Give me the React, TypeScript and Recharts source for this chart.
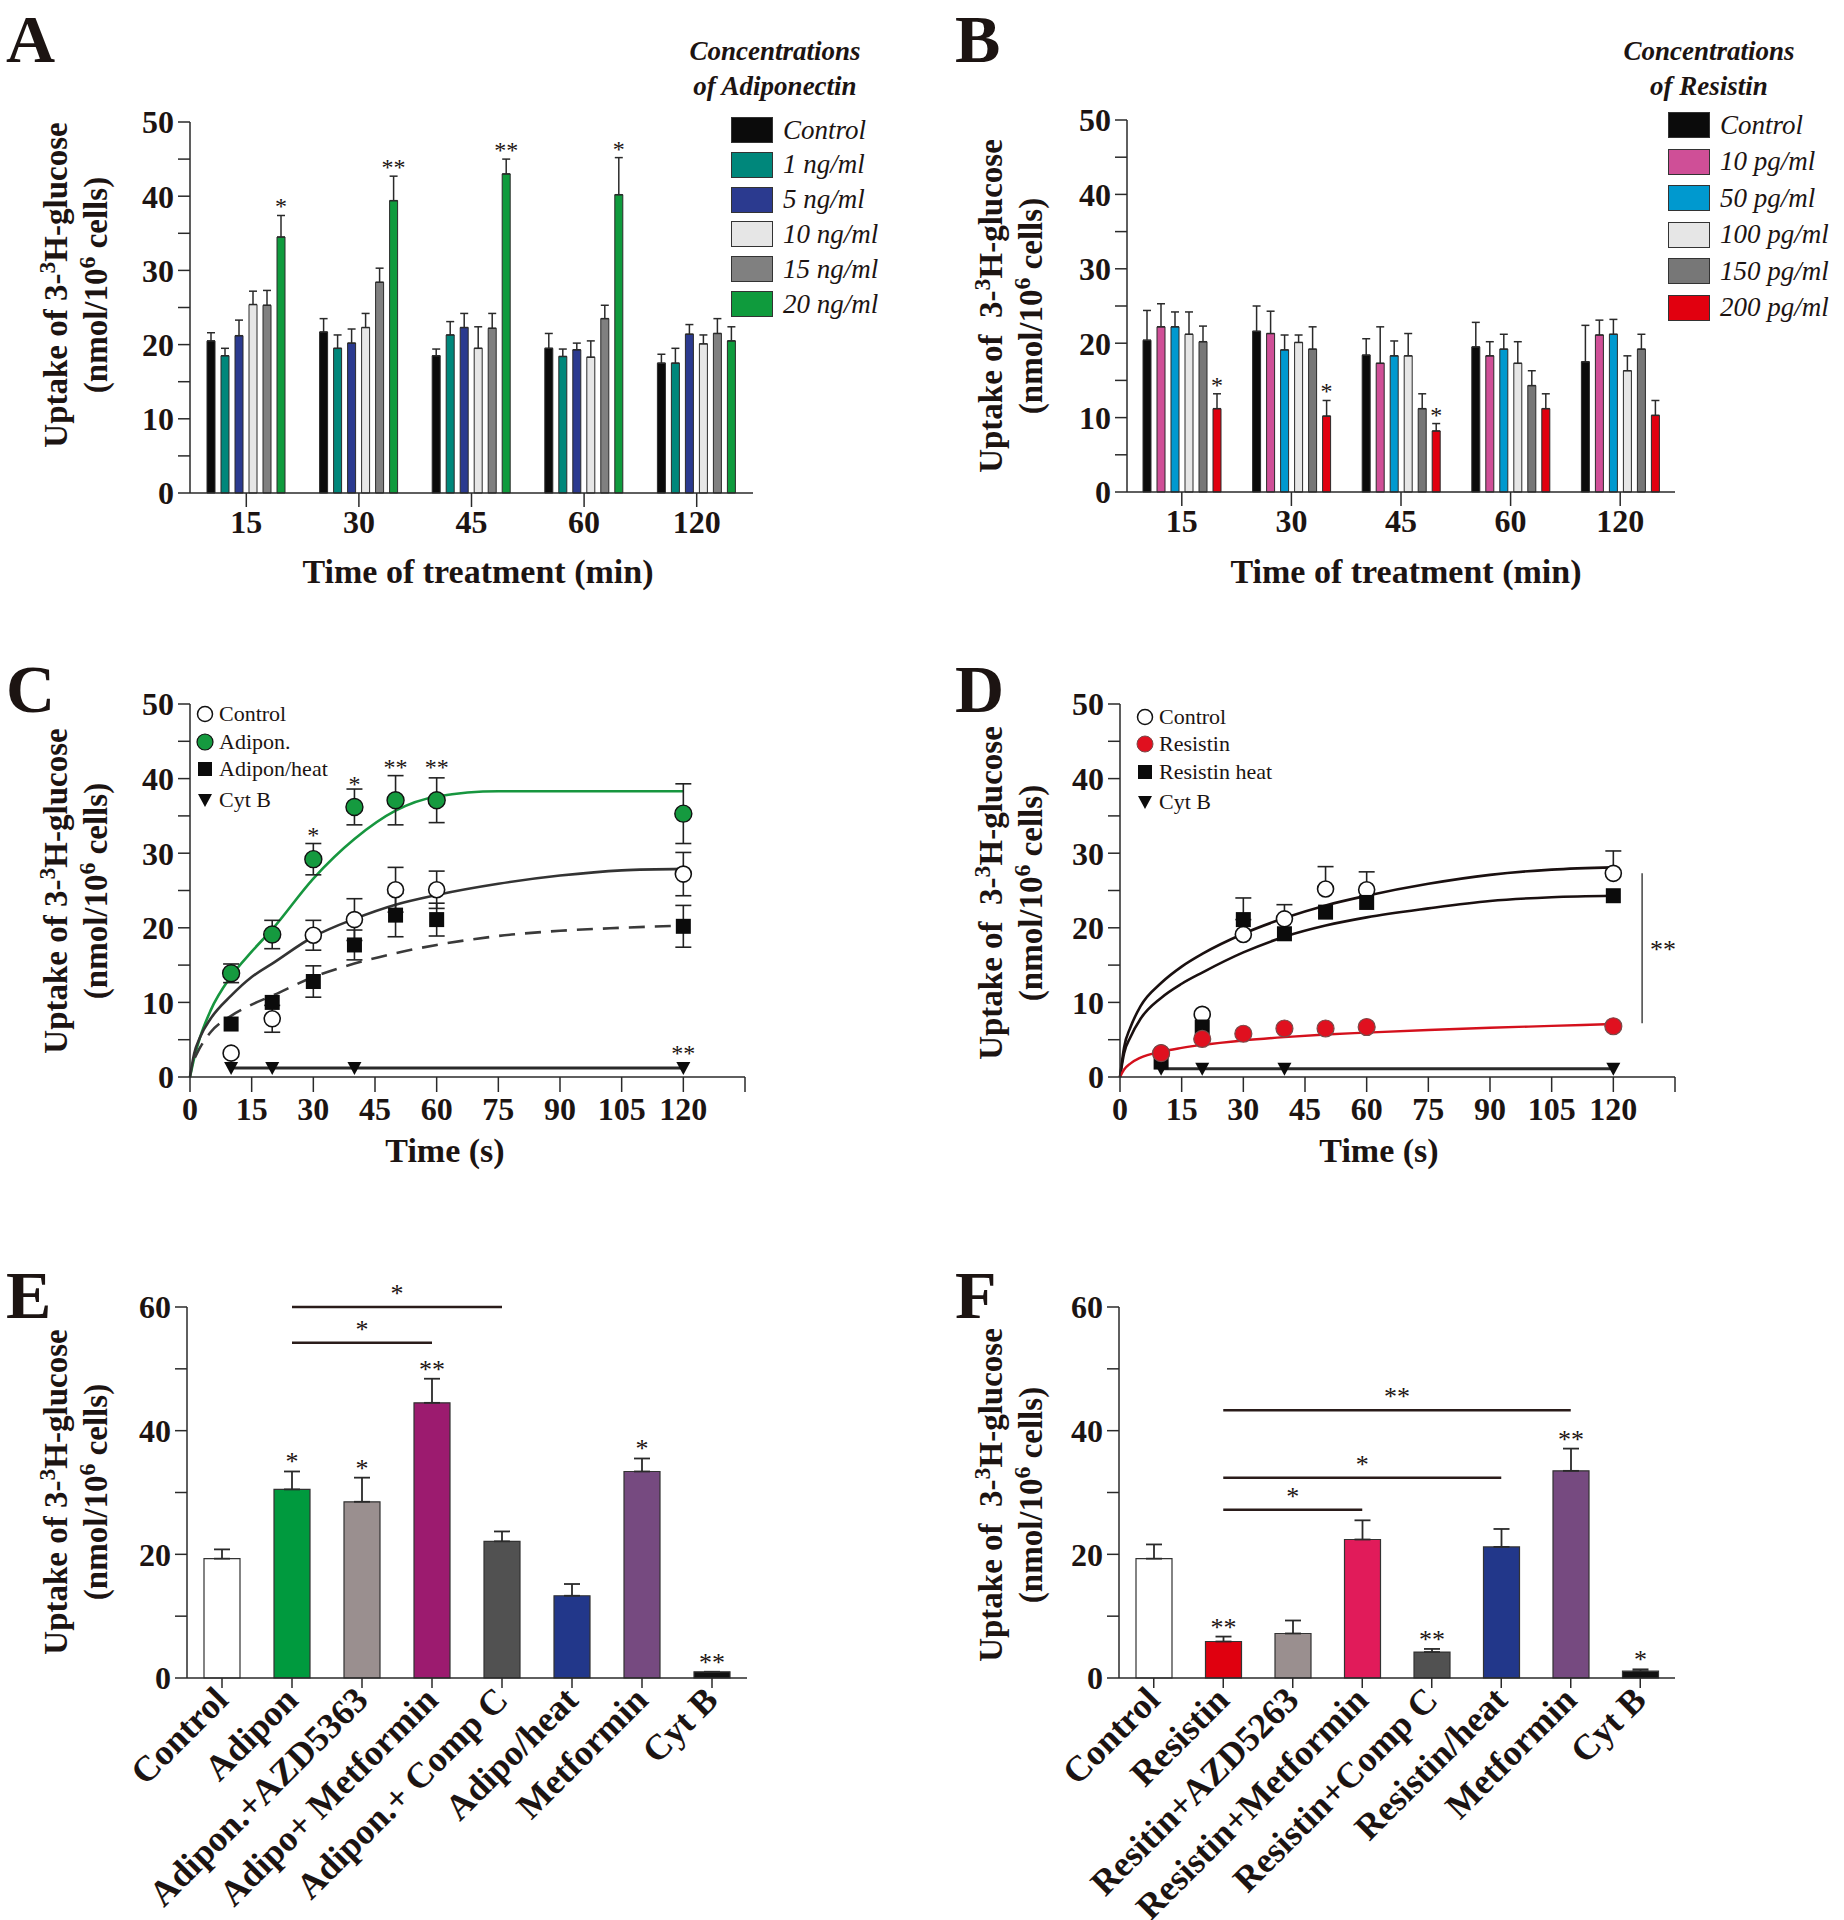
import React from 'react';
import {
  Bar,
  BarChart,
  Cell,
  ComposedChart,
  ErrorBar,
  LabelList,
  Line,
  ReferenceLine,
  Scatter,
  XAxis,
  YAxis,
} from 'recharts';

const FONT = '"Liberation Serif", "Times New Roman", serif';
const INK = '#1c1412';
const AX = '#2a2a2a';

// ---------- panel A / B : grouped bars over time ----------
const timesAB = ['15', '30', '45', '60', '120'];

const adipoNames = ['Control', '1 ng/ml', '5 ng/ml', '10 ng/ml', '15 ng/ml', '20 ng/ml'];
const adipoColors = ['#0b0b0b', '#00877b', '#2b3a8f', '#e6e6e6', '#808080', '#0f9b3d'];
const adipoControl = [20.5, 21.7, 18.5, 19.5, 17.5];
const adipoControlErr = [1.1, 1.8, 0.9, 2.0, 1.2];
const adipo1 = [18.5, 19.5, 21.3, 18.4, 17.5];
const adipo1Err = [1.0, 1.8, 1.8, 1.0, 2.0];
const adipo5 = [21.2, 20.2, 22.3, 19.3, 21.4];
const adipo5Err = [2.1, 1.9, 1.9, 0.9, 1.3];
const adipo10 = [25.4, 22.3, 19.5, 18.3, 20.1];
const adipo10Err = [1.8, 1.9, 2.9, 2.2, 1.2];
const adipo15 = [25.3, 28.4, 22.2, 23.5, 21.5];
const adipo15Err = [2.0, 1.9, 2.0, 1.8, 2.0];
const adipo20 = [34.5, 39.4, 43.0, 40.2, 20.5];
const adipo20Err = [2.9, 3.3, 2.0, 5.0, 1.9];
const adipo20Stars = ['*', '**', '**', '*', ''];

const resNames = ['Control', '10 pg/ml', '50 pg/ml', '100 pg/ml', '150 pg/ml', '200 pg/ml'];
const resColors = ['#0b0b0b', '#cf4f97', '#0099cf', '#e6e6e6', '#777777', '#e1000f'];
const resControl = [20.4, 21.6, 18.4, 19.5, 17.5];
const resControlErr = [4.0, 3.4, 2.2, 3.3, 4.9];
const res10 = [22.2, 21.3, 17.3, 18.3, 21.1];
const res10Err = [3.1, 3.0, 4.9, 1.9, 2.0];
const res50 = [22.2, 19.1, 18.3, 19.2, 21.2];
const res50Err = [2.0, 2.0, 2.0, 2.0, 2.0];
const res100 = [21.2, 20.1, 18.3, 17.3, 16.3];
const res100Err = [3.0, 1.0, 3.0, 2.9, 2.0];
const res150 = [20.2, 19.2, 11.2, 14.3, 19.2];
const res150Err = [2.1, 3.0, 2.0, 2.0, 2.0];
const res200 = [11.2, 10.2, 8.2, 11.2, 10.3];
const res200Err = [2.0, 2.1, 1.0, 2.0, 2.0];
const res200Stars = ['*', '*', '*', '', ''];

// ---------- panel C / D : time course ----------
const timesCD = [10, 20, 30, 40, 50, 60, 120];
const cytTimes = [10, 20, 40, 120];

const cControl = [3.2, 7.8, 19.0, 21.1, 25.1, 25.1, 27.2];
const cControlErr = [null, 1.8, 2.0, 2.8, 3.0, 2.5, 2.9];
const cAdipon = [13.9, 19.1, 29.2, 36.2, 37.1, 37.1, 35.3];
const cAdiponErr = [1.25, 1.9, 2.1, 2.4, 3.3, 3.0, 4.0];
const cHeat = [7.1, 10.0, 12.8, 17.7, 21.7, 21.1, 20.2];
const cHeatErr = [null, null, 2.1, 2.0, 2.9, 2.2, 2.8];
const cCyt = [1.2, 1.2, 1.2, 1.2];
const cStarTimes = [30, 40, 50, 60, 120];
const cStarY = [32.8, 39.7, 41.9, 41.9, 3.6];
const cStarText = ['*', '*', '**', '**', '**'];

// fitted curves
const fitT = [0, 1, 2.5, 5, 10, 15, 20, 30, 40, 50, 60, 75, 90, 105, 120];
const cFitAdipon = [0, 2.5, 5.4, 8.9, 13.5, 16.8, 19.8, 26.6, 31.9, 35.7, 37.6, 38.3, 38.3, 38.3, 38.3];
const cFitControl = [0, 3.1, 5.4, 7.8, 10.9, 13.4, 15.2, 18.8, 21.2, 23.1, 24.4, 25.9, 27.0, 27.7, 27.9];
const dashT = [1.2, 2.5, 5, 10, 15, 20, 30, 40, 50, 60, 75, 90, 105, 120];
const cFitHeat = [2.6, 4.0, 6.0, 8.2, 9.7, 10.9, 13.4, 15.2, 16.6, 17.7, 18.9, 19.6, 20.0, 20.3];

const dControl = [3.2, 8.4, 19.1, 21.2, 25.2, 25.1, 27.3];
const dControlErr = [null, null, null, 1.9, 3.0, 2.4, 3.0];
const dHeat = [2.0, 6.7, 21.1, 19.2, 22.1, 23.4, 24.3];
const dHeatErr = [null, null, 2.9, null, null, null, null];
const dResistin = [3.2, 5.1, 5.8, 6.5, 6.5, 6.7, 6.8];
const dCyt = [1.1, 1.1, 1.1, 1.1];
const dFitControl = [0, 4.0, 6.6, 9.5, 12.6, 14.8, 16.5, 19.2, 21.3, 23.0, 24.3, 25.9, 27.1, 27.8, 28.1];
const dFitHeat = [0, 3.2, 5.3, 7.8, 10.6, 12.5, 14.0, 16.7, 18.8, 20.3, 21.4, 22.6, 23.6, 24.1, 24.3];
const dFitResistin = [0, 1.0, 1.8, 2.6, 3.4, 3.9, 4.3, 4.9, 5.35, 5.7, 5.95, 6.3, 6.6, 6.85, 7.1];

// ---------- panel E / F : treatments ----------
const eNames = ['Control', 'Adipon', 'Adipon.+AZD5363', 'Adipo+ Metformin', 'Adipon.+ Comp C', 'Adipo/heat', 'Metformin', 'Cyt B'];
const eMeans = [19.3, 30.5, 28.5, 44.5, 22.1, 13.3, 33.4, 1.0];
const eErrs = [1.5, 2.9, 3.9, 3.9, 1.6, 1.9, 2.1, 0];
const eColors = ['#ffffff', '#009a3e', '#9a8f8f', '#9c1b6f', '#515151', '#22378a', '#764a80', '#111111'];
const eStars = ['', '*', '*', '**', '', '', '*', '**'];

const fNames = ['Control', 'Resistin', 'Resitin+AZD5263', 'Resistin+Metformin', 'Resistin+Comp C', 'Resistin/heat', 'Metformin', 'Cyt B'];
const fMeans = [19.3, 5.9, 7.2, 22.4, 4.2, 21.2, 33.5, 1.1];
const fErrs = [2.3, 0.8, 2.1, 3.1, 0.5, 2.9, 3.6, 0.3];
const fColors = ['#ffffff', '#e0000f', '#9a8f8f', '#e11b5a', '#515151', '#22378a', '#764a80', '#111111'];
const fStars = ['', '**', '', '', '**', '', '**', '*'];

const tickFont = { fill: INK, fontSize: 32, fontFamily: FONT, fontWeight: 700 };
const axisLine = { stroke: AX, strokeWidth: 1.5 };

const starContent = (stars: string[], vals: number[], errs: number[], fs: number) => (p: any) => {
  const i = Number(p.value);
  const s = stars[i];
  if (!s) return null;
  const vb = p.viewBox && p.viewBox.width != null ? p.viewBox : p;
  const h = Math.abs(Number(vb.height));
  const top = Math.min(Number(vb.y), Number(vb.y) + Number(vb.height));
  const per = h / vals[i];
  return (
    <text x={Number(vb.x) + Number(vb.width) / 2} y={top - errs[i] * per - 1} textAnchor="middle" fontSize={fs} fontFamily={FONT} fill={INK}>
      {s}
    </text>
  );
};

type Series = { vals: number[]; errs: number[]; color: string };

const GroupedBars = ({ series, stars, margin }: { series: Series[]; stars: string[]; margin: any }) => {
  const rows = timesAB.map((t, i) => {
    const r: any = { t, idx: i };
    series.forEach((s, k) => {
      r['v' + k] = s.vals[i];
      r['e' + k] = [0, s.errs[i]];
    });
    return r;
  });
  const last = series.length - 1;
  return (
    <BarChart width={922} height={640} data={rows} margin={margin} barSize={8} barGap={6}>
      <XAxis dataKey="t" interval={0} height={60} tickSize={14} tickMargin={3} axisLine={axisLine} tickLine={axisLine} tick={tickFont} />
      <YAxis
        type="number"
        domain={[0, 50]}
        ticks={[0, 5, 10, 15, 20, 25, 30, 35, 40, 45, 50]}
        interval={0}
        tickFormatter={(v: number) => (v % 10 === 0 ? String(v) : '')}
        width={60}
        tickSize={12}
        tickMargin={4}
        axisLine={axisLine}
        tickLine={axisLine}
        tick={tickFont}
      />
      {series.map((s, k) => (
        <Bar key={k} dataKey={'v' + k} fill={s.color} stroke="#2a2a2a" strokeWidth={1} isAnimationActive={false}>
          <ErrorBar dataKey={'e' + k} width={4} stroke="#2a2a2a" strokeWidth={1.5} direction="y" />
          {k === last && <LabelList dataKey="idx" content={starContent(stars, s.vals, s.errs, 24)} />}
        </Bar>
      ))}
    </BarChart>
  );
};

const pts = (ts: number[], vs: number[], es?: (number | null)[], up?: boolean) =>
  ts.map((t, i) => ({ t, y: vs[i], e: es && es[i] != null ? (up ? [0, es[i] as number] : es[i]) : null }));

const OpenCircle = (p: any) => <circle cx={p.cx} cy={p.cy} r={8} fill="#fff" stroke="#111" strokeWidth={1.6} />;
const GreenCircle = (p: any) => <circle cx={p.cx} cy={p.cy} r={8.5} fill="#159a3f" stroke="#111" strokeWidth={1.4} />;
const RedCircle = (p: any) => <circle cx={p.cx} cy={p.cy} r={8.5} fill="#e0101f" stroke="#7a4a4a" strokeWidth={1.2} />;
const Square = (p: any) => <rect x={p.cx - 7.5} y={p.cy - 7.5} width={15} height={15} fill="#0b0b0b" />;
const TriDown = (p: any) => (
  <path d={`M${p.cx - 7},${p.cy - 6} L${p.cx + 7},${p.cy - 6} L${p.cx},${p.cy + 7} Z`} fill="#0b0b0b" />
);
const StarShape = (p: any) => (
  <text x={p.cx} y={p.cy + 11} textAnchor="middle" fontSize={24} fontFamily={FONT} fill={INK}>
    {p.payload.s}
  </text>
);

const xTimeAxis = (
  <XAxis
    type="number"
    dataKey="t"
    domain={[0, 135]}
    ticks={[0, 15, 30, 45, 60, 75, 90, 105, 120, 135]}
    interval={0}
    tickFormatter={(v: number) => (v === 135 ? '' : String(v))}
    height={60}
    tickSize={15}
    tickMargin={5}
    axisLine={axisLine}
    tickLine={axisLine}
    tick={tickFont}
  />
);
const yTimeAxis = (
  <YAxis
    type="number"
    dataKey="y"
    domain={[0, 50]}
    ticks={[0, 5, 10, 15, 20, 25, 30, 35, 40, 45, 50]}
    interval={0}
    tickFormatter={(v: number) => (v % 10 === 0 ? String(v) : '')}
    width={60}
    tickSize={12}
    tickMargin={4}
    axisLine={axisLine}
    tickLine={axisLine}
    tick={tickFont}
  />
);

const PanelC = () => (
  <ComposedChart width={922} height={600} margin={{ top: 104, right: 177, left: 130, bottom: 63 }}>
    {xTimeAxis}
    {yTimeAxis}
    <Line data={pts(fitT, cFitAdipon)} dataKey="y" type="monotone" stroke="#17963f" strokeWidth={2.6} dot={false} isAnimationActive={false} />
    <Line data={pts(fitT, cFitControl)} dataKey="y" type="monotone" stroke="#333" strokeWidth={2.6} dot={false} isAnimationActive={false} />
    <Line data={pts(dashT, cFitHeat)} dataKey="y" type="monotone" stroke="#3a3a3a" strokeWidth={2.6} strokeDasharray="16 10" dot={false} isAnimationActive={false} />
    <Line data={pts(cytTimes, cCyt)} dataKey="y" type="linear" stroke="#2a2a2a" strokeWidth={3} dot={false} isAnimationActive={false} />
    <Scatter data={pts(timesCD, cHeat, cHeatErr)} dataKey="y" shape={Square} isAnimationActive={false}>
      <ErrorBar dataKey="e" direction="y" width={8} stroke="#222" strokeWidth={1.6} />
    </Scatter>
    <Scatter data={pts(timesCD, cControl, cControlErr)} dataKey="y" shape={OpenCircle} isAnimationActive={false}>
      <ErrorBar dataKey="e" direction="y" width={8} stroke="#222" strokeWidth={1.6} />
    </Scatter>
    <Scatter data={pts(timesCD, cAdipon, cAdiponErr)} dataKey="y" shape={GreenCircle} isAnimationActive={false}>
      <ErrorBar dataKey="e" direction="y" width={8} stroke="#222" strokeWidth={1.6} />
    </Scatter>
    <Scatter data={pts(cytTimes, cCyt)} dataKey="y" shape={TriDown} isAnimationActive={false} />
    <Scatter data={cStarTimes.map((t, i) => ({ t, y: cStarY[i], s: cStarText[i] }))} dataKey="y" shape={StarShape} isAnimationActive={false} />
  </ComposedChart>
);

const PanelD = () => (
  <ComposedChart width={922} height={600} margin={{ top: 104, right: 169, left: 138, bottom: 63 }}>
    {xTimeAxis}
    {yTimeAxis}
    <Line data={pts(fitT, dFitControl)} dataKey="y" type="monotone" stroke="#1a1010" strokeWidth={2.6} dot={false} isAnimationActive={false} />
    <Line data={pts(fitT, dFitHeat)} dataKey="y" type="monotone" stroke="#1a1010" strokeWidth={2.6} dot={false} isAnimationActive={false} />
    <Line data={pts(fitT, dFitResistin)} dataKey="y" type="monotone" stroke="#d4101c" strokeWidth={2.4} dot={false} isAnimationActive={false} />
    <Line data={pts(cytTimes, dCyt)} dataKey="y" type="linear" stroke="#2a2a2a" strokeWidth={3} dot={false} isAnimationActive={false} />
    <ReferenceLine
      segment={[{ x: 127, y: 7.2 }, { x: 127, y: 27.3 }]}
      stroke="#444"
      strokeWidth={1.5}
      ifOverflow="visible"
      label={{ value: '**', position: 'right', offset: 8, fill: INK, fontSize: 26, fontFamily: FONT }}
    />
    <Scatter data={pts(timesCD, dControl, dControlErr, true)} dataKey="y" shape={OpenCircle} isAnimationActive={false}>
      <ErrorBar dataKey="e" direction="y" width={8} stroke="#222" strokeWidth={1.6} />
    </Scatter>
    <Scatter data={pts(timesCD, dHeat, dHeatErr, true)} dataKey="y" shape={Square} isAnimationActive={false}>
      <ErrorBar dataKey="e" direction="y" width={8} stroke="#222" strokeWidth={1.6} />
    </Scatter>
    <Scatter data={pts(timesCD, dResistin)} dataKey="y" shape={RedCircle} isAnimationActive={false} />
    <Scatter data={pts(cytTimes, dCyt)} dataKey="y" shape={TriDown} isAnimationActive={false} />
  </ComposedChart>
);

const RotTick = (p: any) => (
  <text
    x={p.x + 8}
    y={p.y + 10}
    transform={`rotate(-45 ${p.x + 8} ${p.y + 10})`}
    textAnchor="end"
    fontSize={36}
    fontFamily={FONT}
    fontWeight={700}
    fill={INK}
  >
    {p.payload.value}
  </text>
);

type Bracket = { from: string; to: string; y: number; s: string };

const TreatBars = ({ names, means, errs, colors, stars, brackets, margin }: {
  names: string[]; means: number[]; errs: number[]; colors: string[]; stars: string[]; brackets: Bracket[]; margin: any;
}) => {
  const rows = names.map((n, i) => ({ name: n, v: means[i], e: [0, errs[i]], idx: i }));
  return (
    <BarChart width={922} height={720} data={rows} margin={margin}>
      <XAxis dataKey="name" interval={0} height={200} tickSize={10} tickMargin={4} axisLine={axisLine} tickLine={axisLine} tick={<RotTick />} />
      <YAxis
        type="number"
        domain={[0, 60]}
        ticks={[0, 10, 20, 30, 40, 50, 60]}
        interval={0}
        tickFormatter={(v: number) => (v % 20 === 0 ? String(v) : '')}
        width={60}
        tickSize={12}
        tickMargin={4}
        axisLine={axisLine}
        tickLine={axisLine}
        tick={tickFont}
      />
      {brackets.map((b, k) => (
        <ReferenceLine
          key={k}
          segment={[{ x: b.from, y: b.y }, { x: b.to, y: b.y }]}
          stroke="#2a1c1a"
          strokeWidth={2.5}
          ifOverflow="visible"
          label={{ value: b.s, position: 'top', offset: 5, fill: INK, fontSize: 26, fontFamily: FONT }}
        />
      ))}
      <Bar dataKey="v" barSize={36} stroke="#333" strokeWidth={1.2} isAnimationActive={false}>
        {rows.map((r, i) => (
          <Cell key={i} fill={colors[i]} />
        ))}
        <ErrorBar dataKey="e" width={8} stroke="#2a2a2a" strokeWidth={1.8} direction="y" />
        <LabelList dataKey="idx" content={starContent(stars, means, errs, 26)} />
      </Bar>
    </BarChart>
  );
};

const eBrackets: Bracket[] = [
  { from: eNames[1], to: eNames[3], y: 54.2, s: '*' },
  { from: eNames[1], to: eNames[4], y: 60, s: '*' },
];
const fBrackets: Bracket[] = [
  { from: fNames[1], to: fNames[3], y: 27.2, s: '*' },
  { from: fNames[1], to: fNames[5], y: 32.4, s: '*' },
  { from: fNames[1], to: fNames[6], y: 43.3, s: '**' },
];

// ---------- text overlays ----------
const abs = (left: number, top: number): React.CSSProperties => ({ position: 'absolute', left, top });

const Letter = ({ x, y, c }: { x: number; y: number; c: string }) => (
  <svg style={abs(x, y)} width={80} height={84}>
    <text x={0} y={62} fontSize={68} fontWeight={700} fontFamily={FONT} fill={INK}>
      {c}
    </text>
  </svg>
);

const supStyle: React.CSSProperties = { fontSize: '0.72em', position: 'relative', top: '-0.5em' };

const YTitle = ({ cx, cy, gap }: { cx: number; cy: number; gap?: string }) => (
  <div
    style={{
      ...abs(cx, cy),
      transform: 'translate(-50%, -50%) rotate(-90deg)',
      whiteSpace: 'nowrap',
      textAlign: 'center',
      fontSize: 33,
      fontWeight: 700,
      lineHeight: '37px',
    }}
  >
    <div>
      Uptake of{gap ?? ' '}3-<span style={supStyle}>3</span>H-glucose
    </div>
    <div>
      (nmol/10<span style={supStyle}>6</span> cells)
    </div>
  </div>
);

const XTitle = ({ cx, cy, text }: { cx: number; cy: number; text: string }) => (
  <div style={{ ...abs(cx, cy), transform: 'translate(-50%, -50%)', whiteSpace: 'nowrap', fontSize: 34, fontWeight: 700 }}>{text}</div>
);

const BoxLegend = ({ title, names, colors, titleX, boxX, top, step }: {
  title: string[]; names: string[]; colors: string[]; titleX: number; boxX: number; top: number; step: number;
}) => (
  <>
    <div style={{ ...abs(titleX, 34), transform: 'translateX(-50%)', textAlign: 'center', whiteSpace: 'nowrap', fontStyle: 'italic', fontWeight: 700, fontSize: 27, lineHeight: '35px' }}>
      {title[0]}
      <br />
      {title[1]}
    </div>
    {names.map((n, i) => (
      <div key={n} style={{ ...abs(boxX, top + i * step), display: 'flex', alignItems: 'center', height: 28 }}>
        <div style={{ width: 42, height: 26, background: colors[i], border: '1.5px solid #333', boxSizing: 'border-box' }} />
        <div style={{ marginLeft: 10, fontStyle: 'italic', fontSize: 27, whiteSpace: 'nowrap' }}>{n}</div>
      </div>
    ))}
  </>
);

const MarkerLegend = ({ x, tops, names, markers }: { x: number; tops: number[]; names: string[]; markers: React.ReactNode[] }) => (
  <>
    {names.map((n, i) => (
      <div key={n} style={{ ...abs(x - 9, tops[i] - 12), display: 'flex', alignItems: 'center', height: 24 }}>
        <svg width={18} height={18} style={{ display: 'block' }}>
          {markers[i]}
        </svg>
        <div style={{ marginLeft: 5, fontSize: 22, whiteSpace: 'nowrap' }}>{n}</div>
      </div>
    ))}
  </>
);

const mOpen = <circle cx={9} cy={9} r={7.5} fill="#fff" stroke="#111" strokeWidth={1.5} />;
const mGreen = <circle cx={9} cy={9} r={8} fill="#159a3f" stroke="#111" strokeWidth={1.2} />;
const mRed = <circle cx={9} cy={9} r={8} fill="#e0101f" stroke="#7a4a4a" strokeWidth={1} />;
const mSquare = <rect x={2} y={2} width={14} height={14} fill="#0b0b0b" />;
const mTri = <path d="M2,3 L16,3 L9,16 Z" fill="#0b0b0b" />;

export default function App() {
  const seriesA: Series[] = [
    { vals: adipoControl, errs: adipoControlErr, color: adipoColors[0] },
    { vals: adipo1, errs: adipo1Err, color: adipoColors[1] },
    { vals: adipo5, errs: adipo5Err, color: adipoColors[2] },
    { vals: adipo10, errs: adipo10Err, color: adipoColors[3] },
    { vals: adipo15, errs: adipo15Err, color: adipoColors[4] },
    { vals: adipo20, errs: adipo20Err, color: adipoColors[5] },
  ];
  const seriesB: Series[] = [
    { vals: resControl, errs: resControlErr, color: resColors[0] },
    { vals: res10, errs: res10Err, color: resColors[1] },
    { vals: res50, errs: res50Err, color: resColors[2] },
    { vals: res100, errs: res100Err, color: resColors[3] },
    { vals: res150, errs: res150Err, color: resColors[4] },
    { vals: res200, errs: res200Err, color: resColors[5] },
  ];

  return (
    <div style={{ position: 'absolute', left: 0, top: 0, width: 1844, height: 1920, background: '#fff', fontFamily: FONT, color: INK, overflow: 'hidden' }}>
      <div style={abs(0, 0)}>
        <GroupedBars series={seriesA} stars={adipo20Stars} margin={{ top: 122, right: 169, left: 130, bottom: 87 }} />
      </div>
      <div style={abs(922, 0)}>
        <GroupedBars series={seriesB} stars={res200Stars} margin={{ top: 120, right: 169, left: 145, bottom: 88 }} />
      </div>
      <div style={abs(0, 600)}>
        <PanelC />
      </div>
      <div style={abs(922, 600)}>
        <PanelD />
      </div>
      <div style={abs(0, 1200)}>
        <TreatBars names={eNames} means={eMeans} errs={eErrs} colors={eColors} stars={eStars} brackets={eBrackets} margin={{ top: 107, right: 175, left: 127, bottom: 42 }} />
      </div>
      <div style={abs(922, 1200)}>
        <TreatBars names={fNames} means={fMeans} errs={fErrs} colors={fColors} stars={fStars} brackets={fBrackets} margin={{ top: 107, right: 169, left: 137, bottom: 42 }} />
      </div>

      <Letter x={6} y={0} c="A" />
      <Letter x={955} y={0} c="B" />
      <Letter x={6} y={650} c="C" />
      <Letter x={955} y={650} c="D" />
      <Letter x={6} y={1256} c="E" />
      <Letter x={955} y={1256} c="F" />

      <YTitle cx={78} cy={285} />
      <YTitle cx={1013} cy={306} gap={'\u00a0 '} />
      <YTitle cx={78} cy={891} />
      <YTitle cx={1013} cy={893} gap={'\u00a0 '} />
      <YTitle cx={78} cy={1492} />
      <YTitle cx={1013} cy={1495} gap={'\u00a0 '} />

      <XTitle cx={478} cy={572} text="Time of treatment (min)" />
      <XTitle cx={1406} cy={572} text="Time of treatment (min)" />
      <XTitle cx={445} cy={1151} text="Time (s)" />
      <XTitle cx={1379} cy={1151} text="Time (s)" />

      <BoxLegend title={['Concentrations', 'of Adiponectin']} names={adipoNames} colors={adipoColors} titleX={775} boxX={731} top={116} step={34.8} />
      <BoxLegend title={['Concentrations', 'of Resistin']} names={resNames} colors={resColors} titleX={1709} boxX={1668} top={111} step={36.5} />

      <MarkerLegend x={205} tops={[714, 742, 769, 800]} names={['Control', 'Adipon.', 'Adipon/heat', 'Cyt B']} markers={[mOpen, mGreen, mSquare, mTri]} />
      <MarkerLegend x={1145} tops={[717, 744, 772, 802]} names={['Control', 'Resistin', 'Resistin heat', 'Cyt B']} markers={[mOpen, mRed, mSquare, mTri]} />
    </div>
  );
}
